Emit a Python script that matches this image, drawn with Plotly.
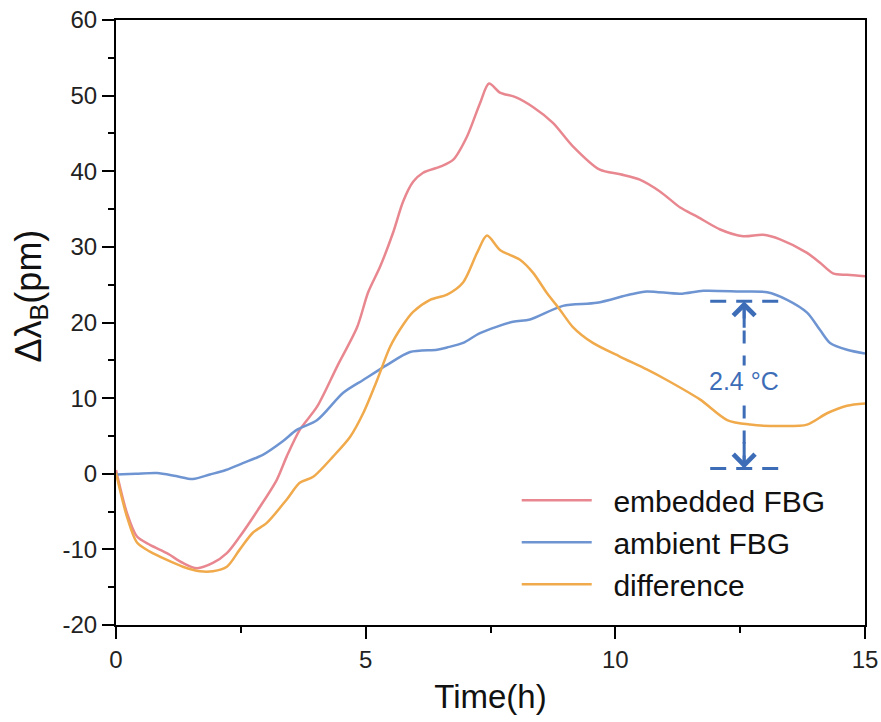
import plotly.graph_objects as go

# ---- data ----
t_embedded = [0, 0.22, 0.42, 0.68, 1.02, 1.34, 1.62, 1.94, 2.22, 2.48, 2.88, 3.22, 3.42, 3.68,
              4.03, 4.43, 4.83, 5.05, 5.29, 5.55, 5.75, 5.95, 6.15, 6.49, 6.75, 7.03, 7.29, 7.47,
              7.69, 8.0, 8.35, 8.75, 9.15, 9.69, 10.1, 10.49, 10.9, 11.3, 11.64, 12.1, 12.56,
              12.96, 13.3, 13.84, 14.1, 14.36, 14.64, 15.0]
v_embedded = [0.5, -5.2, -8.3, -9.4, -10.5, -11.8, -12.5, -11.8, -10.5, -8.3, -4.4, -0.8, 2.3, 5.8,
              8.9, 14.2, 19.4, 24.0, 27.4, 31.9, 36.0, 38.6, 39.8, 40.6, 41.5, 44.6, 49.0, 51.6,
              50.4, 49.8, 48.5, 46.4, 43.3, 40.2, 39.6, 38.9, 37.3, 35.2, 34.0, 32.3, 31.4,
              31.6, 31.0, 29.2, 27.9, 26.5, 26.3, 26.1]

t_ambient = [0, 0.4, 0.82, 1.2, 1.54, 1.88, 2.2, 2.54, 2.94, 3.34, 3.62, 4.03, 4.55, 4.95, 5.43,
             5.89, 6.43, 6.63, 6.95, 7.29, 7.95, 8.29, 8.95, 9.63, 10.29, 10.63, 11.3, 11.76, 12.5,
             13.04, 13.44, 13.84, 14.1, 14.3, 14.64, 15.0]
v_ambient = [-0.1, 0.0, 0.1, -0.3, -0.7, -0.1, 0.5, 1.4, 2.5, 4.3, 5.8, 7.1, 10.7, 12.4, 14.4,
             16.1, 16.4, 16.7, 17.3, 18.6, 20.1, 20.4, 22.2, 22.6, 23.7, 24.1, 23.8, 24.2, 24.1,
             24.0, 23.0, 21.3, 19.0, 17.3, 16.4, 15.9]

t_difference = [0, 0.22, 0.42, 0.68, 1.02, 1.34, 1.68, 1.94, 2.22, 2.48, 2.74, 3.02, 3.42, 3.68,
                3.95, 4.35, 4.69, 4.95, 5.23, 5.49, 5.75, 5.95, 6.29, 6.63, 6.95, 7.23, 7.43,
                7.69, 8.09, 8.35, 8.63, 8.89, 9.15, 9.55, 10.09, 10.63, 11.03, 11.7, 12.24, 12.7,
                13.36, 13.84, 14.24, 14.64, 15.0]
v_difference = [0.1, -5.7, -9.1, -10.3, -11.4, -12.3, -12.9, -12.9, -12.3, -10.0, -7.8, -6.5, -3.4,
                -1.2, -0.4, 2.3, 4.9, 8.0, 12.4, 16.8, 19.7, 21.4, 23.0, 23.7, 25.3, 29.2, 31.5,
                29.6, 28.3, 26.6, 23.9, 21.7, 19.4, 17.3, 15.5, 13.8, 12.4, 9.8, 7.1, 6.5,
                6.3, 6.5, 8.0, 9.0, 9.3]

series_names = ["embedded FBG", "ambient FBG", "difference"]
series_colors = ["#E8878F", "#6E95D2", "#F0AA4C"]

x_tickvals = [0, 5, 10, 15]
x_ticktext = ["0", "5", "10", "15"]
y_tickvals = [-20, -10, 0, 10, 20, 30, 40, 50, 60]
y_ticktext = ["-20", "-10", "0", "10", "20", "30", "40", "50", "60"]

x_title = "Time(h)"
y_title = "Δλ<sub>B</sub>(pm)"

# annotation: 2.4 °C span on the ambient curve
span_top = 22.8
span_bottom = 0.7
span_x = 12.58
span_x0, span_x1 = 11.9, 13.34
span_label = "2.4 °C"
span_label_y = 12.2
span_color = "#3E6DB8"

FONT = "Arial, Liberation Sans, sans-serif"
NBSP = "\u00a0"

fig = go.Figure()
for t, v, name, color in zip([t_embedded, t_ambient, t_difference],
                             [v_embedded, v_ambient, v_difference],
                             series_names, series_colors):
    fig.add_trace(go.Scatter(x=t, y=v, name=NBSP * 2 + name, mode="lines",
                             line=dict(color=color, width=2.5, shape="spline", smoothing=0.8)))

# dashed span markers
for yv in (span_top, span_bottom):
    fig.add_shape(type="line", xref="x", yref="y", x0=span_x0, x1=span_x1, y0=yv, y1=yv,
                  line=dict(color=span_color, width=3, dash="16px,10px"))
fig.add_shape(type="line", xref="x", yref="y", x0=span_x, x1=span_x, y0=span_bottom, y1=span_top,
              line=dict(color=span_color, width=3, dash="13px,12px"))
# arrow heads
fig.add_annotation(x=span_x, y=span_top, ax=0, ay=28, xref="x", yref="y", text="",
                   showarrow=True, arrowhead=4, arrowsize=1.4, arrowwidth=3, arrowcolor=span_color)
fig.add_annotation(x=span_x, y=span_bottom, ax=0, ay=-28, xref="x", yref="y", text="",
                   showarrow=True, arrowhead=4, arrowsize=1.4, arrowwidth=3, arrowcolor=span_color)
fig.add_annotation(x=span_x, y=span_label_y, xref="x", yref="y", text=span_label, showarrow=False,
                   bgcolor="white", font=dict(family=FONT, size=25, color=span_color))

# y-axis title (placed as text annotation to match the reference offset)
fig.add_annotation(x=-0.114, y=0.544, xref="paper", yref="paper", text=y_title, showarrow=False,
                   textangle=-90, xanchor="center", yanchor="middle",
                   font=dict(family=FONT, size=36, color="#111111"))

fig.update_layout(
    width=881, height=722,
    margin=dict(l=116, r=16, t=20, b=97, autoexpand=False),
    paper_bgcolor="white", plot_bgcolor="white",
    font=dict(family=FONT, color="#111111"),
    showlegend=True,
    legend=dict(x=0.535, y=0.249, xanchor="left", yanchor="top",
                bgcolor="rgba(0,0,0,0)", borderwidth=0,
                font=dict(family=FONT, size=30, color="#111111"),
                itemwidth=70, tracegroupgap=0),
    xaxis=dict(range=[0, 15], tickmode="array", tickvals=x_tickvals, ticktext=x_ticktext,
               automargin=False, ticklabeloverflow="allow",
               showline=True, linewidth=2, linecolor="black", mirror=True,
               ticks="outside", ticklen=12, tickwidth=2, tickcolor="black",
               minor=dict(ticks="outside", ticklen=6, tickwidth=2, tickcolor="black", dtick=2.5, showgrid=False),
               showgrid=False, zeroline=False,
               tickfont=dict(family=FONT, size=24, color="#222222"),
               title=dict(text=x_title, font=dict(family=FONT, size=33, color="#111111"), standoff=13)),
    yaxis=dict(range=[-20, 60], tickmode="array", tickvals=y_tickvals, ticktext=y_ticktext,
               automargin=False, ticklabeloverflow="allow",
               showline=True, linewidth=2, linecolor="black", mirror=True,
               ticks="outside", ticklen=12, tickwidth=2, tickcolor="black",
               minor=dict(ticks="outside", ticklen=6, tickwidth=2, tickcolor="black", dtick=5, showgrid=False),
               showgrid=False, zeroline=False,
               tickfont=dict(family=FONT, size=24, color="#222222")),
)

fig.write_html("out.html", config={"displayModeBar": False},
               post_script="document.body.style.margin='0px';")
